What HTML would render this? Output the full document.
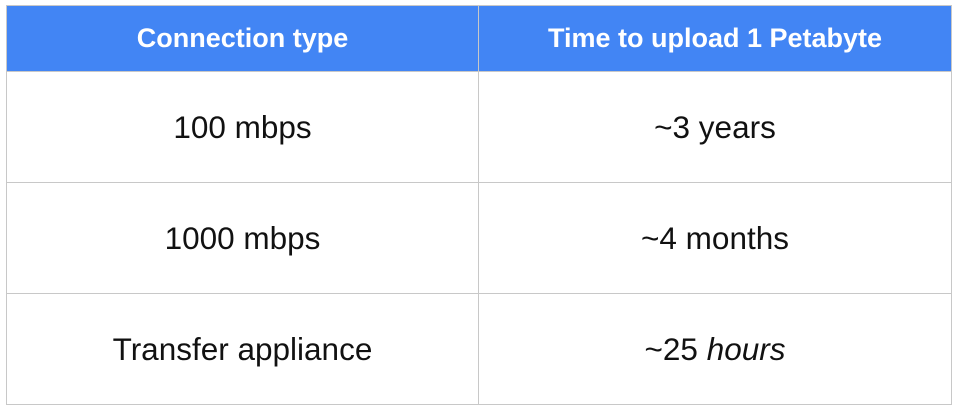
<!DOCTYPE html>
<html><head><meta charset="utf-8"><style>
body{margin:0;width:956px;height:410px;background:#fff;overflow:hidden;font-family:"Liberation Sans",sans-serif}
table{position:absolute;left:6px;top:5px;width:945px;border-collapse:collapse;table-layout:fixed}
th{background:#4285F4;color:#fff;font-size:27px;font-weight:bold;height:65px;border:1px solid #c8c8c8;padding:0}
td{font-size:31.5px;color:#111;text-align:center;height:110px;border:1px solid #c8c8c8;padding:0}
</style></head><body>
<table>
<colgroup><col style="width:472px"><col style="width:473px"></colgroup>
<tr><th>Connection type</th><th>Time to upload 1 Petabyte</th></tr>
<tr><td>100 mbps</td><td>~3 years</td></tr>
<tr><td>1000 mbps</td><td>~4 months</td></tr>
<tr><td>Transfer appliance</td><td>~25 <i>hours</i></td></tr>
</table>
</body></html>
